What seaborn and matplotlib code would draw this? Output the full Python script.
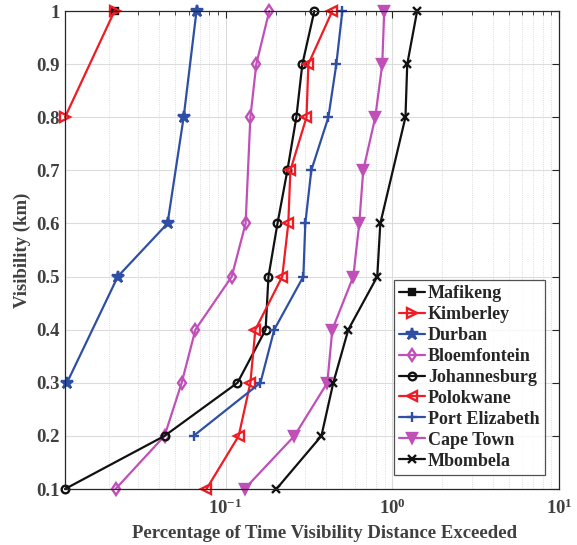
import numpy as np
import pandas as pd
import matplotlib
matplotlib.use("Agg")
import matplotlib.pyplot as plt
import seaborn as sns
from matplotlib.ticker import LogLocator, FixedLocator, FixedFormatter

sns.set_theme(style="white")
plt.rcParams['font.family'] = ['Liberation Serif', 'DejaVu Serif']
plt.rcParams['font.weight'] = 'bold'
plt.rcParams['mathtext.default'] = 'bf'

# ---- data (visibility km vs percentage of time exceeded) ----
mafikeng_vis = [1.0]
mafikeng_pct = [0.0216]

kimberley_vis = [1.0, 0.8]
kimberley_pct = [0.0216, 0.0109]

durban_vis = [1.0, 0.8, 0.6, 0.5, 0.3]
durban_pct = [0.0670, 0.0561, 0.0449, 0.0226, 0.0112]

bloem_vis = [1.0, 0.9, 0.8, 0.6, 0.5, 0.4, 0.3, 0.2, 0.1]
bloem_pct = [0.183, 0.153, 0.141, 0.132, 0.109, 0.066, 0.0546, 0.0431, 0.0219]

joburg_vis = [1.0, 0.9, 0.8, 0.7, 0.6, 0.5, 0.4, 0.3, 0.2, 0.1]
joburg_pct = [0.341, 0.289, 0.266, 0.235, 0.205, 0.181, 0.174, 0.118, 0.0431, 0.0109]

polok_vis = [1.0, 0.9, 0.8, 0.7, 0.6, 0.5, 0.4, 0.3, 0.2, 0.1]
polok_pct = [0.437, 0.314, 0.306, 0.245, 0.238, 0.219, 0.151, 0.141, 0.120, 0.0769]

pe_vis = [1.0, 0.9, 0.8, 0.7, 0.6, 0.5, 0.4, 0.3, 0.2]
pe_pct = [0.502, 0.462, 0.414, 0.327, 0.301, 0.293, 0.196, 0.162, 0.0643]

cape_vis = [1.0, 0.9, 0.8, 0.7, 0.6, 0.5, 0.4, 0.3, 0.2, 0.1]
cape_pct = [0.895, 0.871, 0.791, 0.670, 0.634, 0.584, 0.437, 0.408, 0.259, 0.130]

mbom_vis = [1.0, 0.9, 0.8, 0.6, 0.5, 0.4, 0.3, 0.2, 0.1]
mbom_pct = [1.41, 1.23, 1.20, 0.848, 0.813, 0.545, 0.443, 0.376, 0.202]

y_ticks = [0.1, 0.2, 0.3, 0.4, 0.5, 0.6, 0.7, 0.8, 0.9, 1.0]
y_tick_labels = ['0.1', '0.2', '0.3', '0.4', '0.5', '0.6', '0.7', '0.8', '0.9', '1']

RED = '#ee1c25'
BLUE = '#2e4fa3'
MAG = '#c050b8'
BLK = '#111111'

series = [
    ('Mafikeng', mafikeng_pct, mafikeng_vis, BLK, 's', True, 4),
    ('Kimberley', kimberley_pct, kimberley_vis, RED, '>', False, 6.5),
    ('Durban', durban_pct, durban_vis, BLUE, '*', True, 9),
    ('Bloemfontein', bloem_pct, bloem_vis, MAG, 'd', False, 6.5),
    ('Johannesburg', joburg_pct, joburg_vis, BLK, 'o', False, 5.5),
    ('Polokwane', polok_pct, polok_vis, RED, '<', False, 6.5),
    ('Port Elizabeth', pe_pct, pe_vis, BLUE, '+', True, 6.5),
    ('Cape Town', cape_pct, cape_vis, MAG, 'v', True, 7),
    ('Mbombela', mbom_pct, mbom_vis, BLK, 'x', True, 6),
]

fig = plt.figure(figsize=(5.77, 5.45), dpi=100)
ax = fig.add_axes([65/577, 1-489/545, (559-65)/577, (489-11)/545])

for name, pct, vis, col, mk, filled, ms in series:
    df = pd.DataFrame({'pct': pct, 'vis': vis})
    sns.lineplot(data=df, x='pct', y='vis', ax=ax, sort=False, estimator=None,
                 color=col, marker=mk, markersize=ms, linewidth=1.6,
                 markeredgecolor=col, markeredgewidth=1.7, clip_on=False,
                 markerfacecolor=(col if filled else 'none'), label=name)

ax.set_xscale('log')
ax.set_xlim(0.0109, 10)
ax.set_ylim(0.1, 1.0)
ax.yaxis.set_major_locator(FixedLocator(y_ticks))
ax.yaxis.set_major_formatter(FixedFormatter(y_tick_labels))
ax.xaxis.set_major_locator(LogLocator(base=10))
ax.xaxis.set_minor_locator(LogLocator(base=10, subs=np.arange(2, 10)))

ax.grid(True, which='major', color='#dcdcdc', linewidth=0.8, linestyle='-')
ax.grid(True, which='minor', axis='x', color='#d0d0d0', linewidth=0.6, linestyle=':')
ax.set_axisbelow(True)

for s in ax.spines.values():
    s.set_visible(True)
    s.set_color('#262626')
    s.set_linewidth(0.9)

ax.tick_params(which='both', direction='in', top=True, right=True,
               colors='#262626', labelsize=13.5)
ax.tick_params(which='major', length=5, width=0.8)
ax.tick_params(which='minor', length=3, width=0.6)
ax.tick_params(axis='x', pad=7, labelcolor='#404040')
ax.tick_params(axis='y', pad=4, labelcolor='#404040')
for lab in ax.get_xticklabels() + ax.get_yticklabels():
    lab.set_fontweight('bold')

ax.set_xlabel('Percentage of Time Visibility Distance Exceeded', fontsize=13.5,
              fontweight='bold', color='#404040')
ax.xaxis.set_label_coords((325 - 65) / 494, -0.075)
ax.set_ylabel('Visibility (km)', fontsize=13.5, fontweight='bold', color='#404040')
ax.yaxis.set_label_coords(-0.068, 0.5)

leg = ax.legend(loc='lower right', bbox_to_anchor=(0.972, 0.029), borderaxespad=0,
                frameon=True, fancybox=False, edgecolor='#262626',
                prop={'weight': 'bold', 'size': 13}, handlelength=1.4,
                handletextpad=0.2, labelspacing=0.22, borderpad=0.3)
leg.get_frame().set_linewidth(0.9)
for t in leg.get_texts():
    t.set_color('#262626')

fig.savefig('out.png', dpi=100)
